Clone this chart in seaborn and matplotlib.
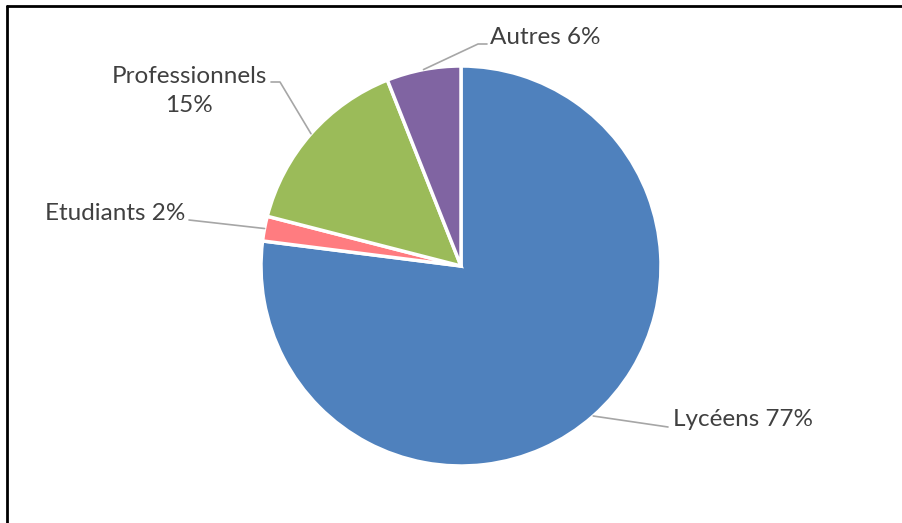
import numpy as np
import matplotlib
matplotlib.use("Agg")
import matplotlib.pyplot as plt
import seaborn as sns
from matplotlib.lines import Line2D

labels = ["Lycéens", "Etudiants", "Professionnels", "Autres"]
values = [77, 2, 15, 6]
label_text = ["Lycéens 77%", "Etudiants 2%", "Professionnels\n15%", "Autres 6%"]
colors = sns.color_palette(["#4F81BD", "#FF7C80", "#9BBB59", "#8064A2"])

sns.set_theme(style="white")
plt.rcParams["font.family"] = ["Lato", "DejaVu Sans"]

W, H = 903, 523
fig = plt.figure(figsize=(W / 100, H / 100), dpi=100)
ax = fig.add_axes([0, 0, 1, 1])
ax.set_xlim(0, W)
ax.set_ylim(0, H)
ax.set_aspect("equal")
ax.axis("off")

cx, cy, r = 461, H - 266, 200
wedges, _ = ax.pie(values, colors=colors, startangle=90, counterclock=False,
                   center=(cx, cy), radius=r, frame=True,
                   wedgeprops=dict(edgecolor="white", linewidth=2.5))
ax.set_xlim(0, W)
ax.set_ylim(0, H)
ax.axis("off")

# label layout: elbow point and text anchor (pixel coords, top origin)
layout = {
    "Lycéens": dict(path=[(668, 427)], txt=(673, 420), ha="left"),
    "Etudiants": dict(path=[(189, 220)], txt=(185, 213), ha="right"),
    "Professionnels": dict(path=[(280, 82), (271, 82)], txt=(189, 91), ha="center"),
    "Autres": dict(path=[(478, 44), (487, 44)], txt=(490, 37), ha="left"),
}
txt_color = "#404040"
for w, lab, t in zip(wedges, labels, label_text):
    mid = np.deg2rad((w.theta1 + w.theta2) / 2)
    p0 = (cx + r * np.cos(mid), cy + r * np.sin(mid))
    pts = [p0] + [(x, H - y) for x, y in layout[lab]["path"]]
    ax.plot([p[0] for p in pts], [p[1] for p in pts], color="#A6A6A6", lw=1.2)
    tx, ty = layout[lab]["txt"]
    ax.text(tx, H - ty, t, ha=layout[lab]["ha"], va="center", fontsize=17.5,
            color=txt_color, linespacing=1.45)

# outer frame (left and top edges visible)
fig.add_artist(Line2D([7 / W, 7 / W], [0, 1 - 6 / H], transform=fig.transFigure, color="black", lw=2))
fig.add_artist(Line2D([7 / W, 1], [1 - 6 / H, 1 - 6 / H], transform=fig.transFigure, color="black", lw=2))

fig.savefig("out.png", dpi=100, facecolor="white")
